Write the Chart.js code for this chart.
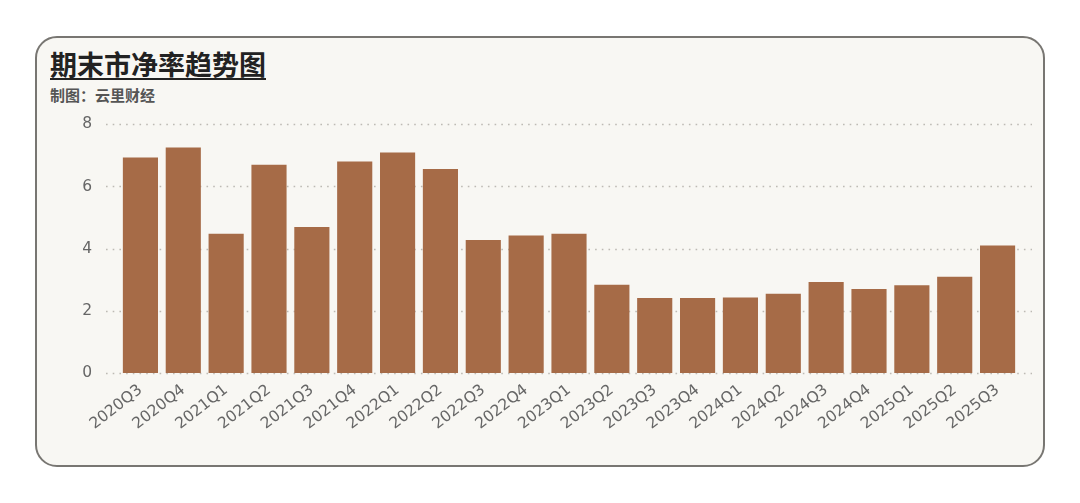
<!DOCTYPE html>
<html>
<head>
<meta charset="utf-8">
<script src="https://cdn.jsdelivr.net/npm/chart.js@4"></script>
<style>
  html, body { margin: 0; padding: 0; background: #ffffff; }
  body { width: 1080px; height: 503px; position: relative; overflow: hidden; }
  .card {
    position: absolute; left: 35px; top: 36px; width: 1006px; height: 427px;
    border: 2px solid #787672; border-radius: 22px; background: #f8f7f3;
  }
  .title {
    position: absolute; left: 50px; top: 47px; margin: 0;
    font: bold 27px "Noto Sans CJK SC", sans-serif; color: #222;
    text-decoration: underline; text-underline-offset: 3px; text-decoration-thickness: 2px;
    line-height: 34px;
  }
  .sub {
    position: absolute; left: 50px; top: 85px; margin: 0;
    font: bold 15px "Noto Sans CJK SC", sans-serif; color: #555; line-height: 20px;
  }
  .wrap { position: absolute; left: 40px; top: 88px; width: 1000px; height: 370px; }
</style>
</head>
<body>
<div class="card"></div>
<h1 class="title">期末市净率趋势图</h1>
<p class="sub">制图：云里财经</p>
<div class="wrap"><canvas id="pbChart"></canvas></div>
<script>
const quarters = ["2020Q3", "2020Q4", "2021Q1", "2021Q2", "2021Q3", "2021Q4", "2022Q1",
  "2022Q2", "2022Q3", "2022Q4", "2023Q1", "2023Q2", "2023Q3", "2023Q4", "2024Q1",
  "2024Q2", "2024Q3", "2024Q4", "2025Q1", "2025Q2", "2025Q3"];
const pbValues = [6.93, 7.25, 4.48, 6.70, 4.70, 6.80, 7.09, 6.56, 4.28, 4.42, 4.48,
  2.84, 2.41, 2.41, 2.43, 2.55, 2.93, 2.70, 2.82, 3.10, 4.10];
const yTicks = [0, 2, 4, 6, 8];

// dotted grid that runs a little past the plot area on both sides
const dottedGrid = {
  id: "dottedGrid",
  beforeDatasetsDraw(chart) {
    const { ctx, chartArea, scales } = chart;
    ctx.save();
    ctx.strokeStyle = "#bdbab4";
    ctx.lineWidth = 1.6;
    ctx.setLineDash([1.6, 5.1]);
    yTicks.forEach((v) => {
      const y = Math.round(scales.y.getPixelForValue(v)) + 0.5;
      ctx.beginPath();
      ctx.moveTo(chartArea.left - 13, y);
      ctx.lineTo(chartArea.right + 13, y);
      ctx.stroke();
    });
    ctx.restore();
  },
};

new Chart(document.querySelector("#pbChart"), {
  type: "bar",
  data: {
    labels: quarters,
    datasets: [
      {
        data: pbValues,
        backgroundColor: "#a66b47",
        barPercentage: 0.82,
        categoryPercentage: 1,
      },
    ],
  },
  plugins: [dottedGrid],
  options: {
    responsive: true,
    maintainAspectRatio: false,
    animation: false,
    layout: { padding: { top: 15, right: 21, left: 0, bottom: 25 } },
    scales: {
      x: {
        grid: { display: false },
        border: { display: false },
        ticks: {
          color: "#666",
          font: { size: 15.5, family: "DejaVu Sans" },
          minRotation: 38,
          maxRotation: 38,
          autoSkip: false,
          padding: 0,
        },
        afterFit: (s) => { s.height = 60; },
      },
      y: {
        min: 0,
        max: 8,
        grid: { display: false, drawTicks: false },
        border: { display: false },
        ticks: {
          stepSize: 2,
          color: "#666",
          font: { size: 15.5, family: "DejaVu Sans" },
          padding: 27,
        },
        afterFit: (s) => { s.width = 79; },
      },
    },
    plugins: {
      legend: { display: false },
      tooltip: { enabled: false },
    },
  },
});
</script>
</body>
</html>
